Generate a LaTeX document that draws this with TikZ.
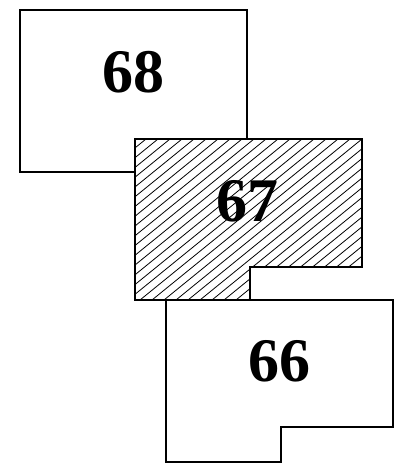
\documentclass[tikz,border=0pt]{standalone}
\usepackage{fontspec}
\setmainfont{Liberation Serif}[BoldFont={Liberation Serif Bold}]
\tikzset{
  parcel/.style={draw, line width=1.4pt, fill=white},
  hatchline/.style={line width=0.8pt},
  lotnum/.style={font=\fontsize{62}{62}\selectfont\bfseries, inner sep=0pt},
}
\newcommand{\lotsixtyseven}{(135,139) -- (362,139) -- (362,267) -- (250,267)
  -- (250,300) -- (135,300) -- cycle}
\begin{document}
\begin{tikzpicture}[
x=1pt, y=-1pt
]
\useasboundingbox (0,0) rectangle (398,472);
% lot 68
\draw[parcel] (20,10) rectangle (247,172);
% lot 67
\fill[white] \lotsixtyseven;
\begin{scope}
\clip \lotsixtyseven;
\foreach \x in {-76,-64,...,364}
  \draw[hatchline] (\x,300) -- (\x+198,139);
\end{scope}
\draw[line width=1.4pt] \lotsixtyseven;
% lot 66
\draw[parcel] (166,300) -- (393,300) -- (393,427) -- (281,427)
  -- (281,462) -- (166,462) -- cycle;

\node[lotnum] (n68) at (133,72) {68};
\node[lotnum] (n67) at (247,201) {67};
\node[lotnum] (n66) at (279,361) {66};
\end{tikzpicture}
\end{document}
